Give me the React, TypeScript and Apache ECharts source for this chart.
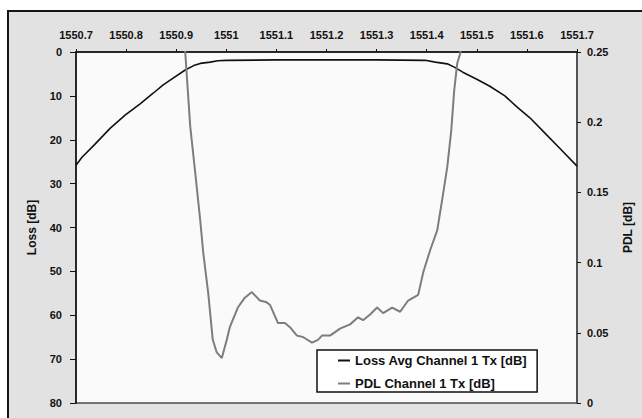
import React, { useEffect, useRef } from "react";
import * as echarts from "echarts";

// Wavelength axis (nm) and its tick labels
const xTickLabels = ["1550.7", "1550.8", "1550.9", "1551", "1551.1", "1551.2", "1551.3", "1551.4", "1551.5", "1551.6", "1551.7"];
const lossTickLabels = ["0", "10", "20", "30", "40", "50", "60", "70", "80"];
const pdlTickLabels = ["0", "0.05", "0.1", "0.15", "0.2", "0.25"];

// Average insertion loss, channel 1
const lossWl = [1550.700, 1550.712, 1550.738, 1550.768, 1550.798, 1550.828, 1550.854, 1550.874, 1550.888, 1550.918, 1550.935, 1550.948, 1550.968, 1550.983, 1551.000, 1551.100, 1551.200, 1551.300, 1551.397, 1551.417, 1551.441, 1551.456, 1551.472, 1551.500, 1551.526, 1551.556, 1551.580, 1551.606, 1551.636, 1551.666, 1551.700];
const lossDb = [25.8, 24.0, 21.0, 17.4, 14.4, 11.8, 9.4, 7.5, 6.4, 4.1, 3.1, 2.6, 2.3, 2.0, 1.9, 1.8, 1.8, 1.8, 1.9, 2.3, 2.7, 3.5, 4.6, 6.2, 7.8, 10.0, 12.5, 15.0, 18.5, 22.0, 26.0];

// Polarisation dependent loss, channel 1
const pdlWl = [1550.914, 1550.918, 1550.928, 1550.938, 1550.948, 1550.954, 1550.964, 1550.973, 1550.981, 1550.991, 1551.001, 1551.007, 1551.023, 1551.037, 1551.051, 1551.067, 1551.079, 1551.087, 1551.103, 1551.117, 1551.127, 1551.141, 1551.153, 1551.171, 1551.183, 1551.191, 1551.207, 1551.227, 1551.247, 1551.263, 1551.273, 1551.287, 1551.301, 1551.313, 1551.331, 1551.347, 1551.363, 1551.383, 1551.393, 1551.407, 1551.421, 1551.431, 1551.441, 1551.449, 1551.455, 1551.461, 1551.467, 1551.475];
const pdlDb = [0.29, 0.25, 0.197, 0.164, 0.130, 0.107, 0.078, 0.045, 0.036, 0.032, 0.045, 0.054, 0.068, 0.075, 0.079, 0.073, 0.072, 0.070, 0.057, 0.057, 0.054, 0.048, 0.047, 0.043, 0.045, 0.048, 0.048, 0.053, 0.056, 0.061, 0.059, 0.063, 0.068, 0.064, 0.068, 0.065, 0.073, 0.077, 0.093, 0.109, 0.123, 0.145, 0.168, 0.194, 0.223, 0.242, 0.249, 0.29];

const seriesNames = ["Loss Avg Channel 1 Tx [dB]", "PDL Channel 1 Tx [dB]"];

const FONT = "'Liberation Sans', Arial, sans-serif";
const labelStyle = { color: "#111", fontSize: 11, fontWeight: "bold" as const, fontFamily: FONT };

export default function App() {
  const ref = useRef<HTMLDivElement>(null);

  useEffect(() => {
    if (!ref.current) return;
    const chart = echarts.init(ref.current, null, { renderer: "svg" });
    const xMin = 1550.7;
    const xStep = 0.1;

    chart.setOption({
      animation: false,
      backgroundColor: "#ffffff",
      graphic: [
        {
          type: "rect",
          z: -10,
          silent: true,
          shape: { x: 8, y: 11, width: 700, height: 500 },
          style: { fill: "#e2e2e2", stroke: "#151515", lineWidth: 2 },
        },
      ],
      grid: {
        left: 76,
        top: 52,
        width: 501,
        height: 351,
        show: true,
        backgroundColor: "#fafafa",
        borderColor: "#4a4a4a",
        borderWidth: 1.5,
      },
      legend: {
        orient: "vertical",
        left: 317,
        top: 350,
        backgroundColor: "#ffffff",
        borderColor: "#111",
        borderWidth: 1.5,
        borderRadius: 0,
        padding: [4, 10, 2, 21],
        itemGap: 10,
        itemWidth: 12,
        itemHeight: 2,
        icon: "rect",
        data: seriesNames,
        textStyle: { color: "#111", fontSize: 13, fontWeight: "bold", fontFamily: FONT },
      },
      xAxis: {
        type: "value",
        position: "top",
        min: xMin,
        max: 1551.7,
        interval: xStep,
        splitLine: { show: false },
        axisLine: { show: true, lineStyle: { color: "#111", width: 1.5 } },
        axisTick: { show: true, inside: false, length: 3, lineStyle: { color: "#111" } },
        axisLabel: {
          ...labelStyle,
          margin: 12,
          formatter: (v: number) => xTickLabels[Math.round((v - xMin) / xStep)] ?? "",
        },
      },
      yAxis: [
        {
          type: "value",
          position: "left",
          min: 0,
          max: 80,
          interval: 10,
          inverse: true,
          name: "Loss [dB]",
          nameLocation: "middle",
          nameGap: 38,
          nameTextStyle: { color: "#111", fontSize: 12, fontWeight: "bold", fontFamily: FONT },
          splitLine: { show: false },
          axisLine: { show: true, lineStyle: { color: "#111", width: 1.5 } },
          axisTick: { show: true, length: 6, lineStyle: { color: "#111" } },
          axisLabel: {
            ...labelStyle,
            margin: 14,
            formatter: (v: number) => lossTickLabels[Math.round(v / 10)] ?? "",
          },
        },
        {
          type: "value",
          position: "right",
          min: 0,
          max: 0.25,
          interval: 0.05,
          name: "PDL [dB]",
          nameLocation: "middle",
          nameGap: 45,
          nameTextStyle: { color: "#111", fontSize: 12, fontWeight: "bold", fontFamily: FONT },
          splitLine: { show: false },
          axisLine: { show: true, lineStyle: { color: "#4a4a4a", width: 1.5 } },
          axisTick: { show: true, length: 4, lineStyle: { color: "#111" } },
          axisLabel: {
            ...labelStyle,
            margin: 10,
            formatter: (v: number) => pdlTickLabels[Math.round(v / 0.05)] ?? "",
          },
        },
      ],
      series: [
        {
          name: seriesNames[0],
          type: "line",
          yAxisIndex: 0,
          symbol: "none",
          clip: true,
          color: "#111111",
          lineStyle: { color: "#111111", width: 1.6 },
          data: lossWl.map((w, i) => [w, lossDb[i]]),
        },
        {
          name: seriesNames[1],
          type: "line",
          yAxisIndex: 1,
          symbol: "none",
          clip: true,
          color: "#7d7d7d",
          lineStyle: { color: "#7d7d7d", width: 2 },
          data: pdlWl.map((w, i) => [w, pdlDb[i]]),
        },
      ],
    });

    return () => chart.dispose();
  }, []);

  return (
    <div
      ref={ref}
      style={{ position: "fixed", left: 0, top: 0, width: 642, height: 418 }}
    />
  );
}
